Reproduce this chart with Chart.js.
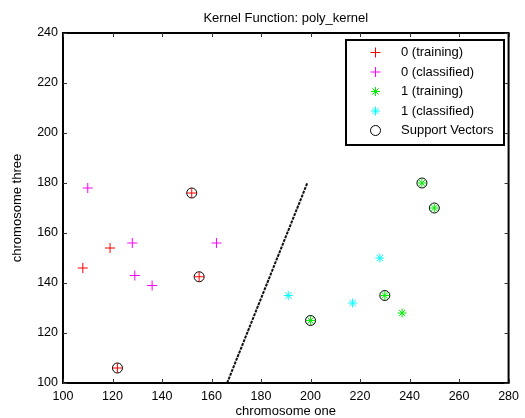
<!DOCTYPE html>
<html>
<head>
<meta charset="utf-8">
<script src="https://cdn.jsdelivr.net/npm/chart.js@4/dist/chart.umd.min.js"></script>
<style>
  body { margin: 0; background: #fff; }
  canvas { display: block; }
</style>
</head>
<body>
<canvas id="chart" width="525" height="418"></canvas>
<script>
const chartTitle = 'Kernel Function: poly_kernel'
const xTitle = 'chromosome one'
const yTitle = 'chromosome three'

const xTicks = [100, 120, 140, 160, 180, 200, 220, 240, 260, 280]
const yTicks = [100, 120, 140, 160, 180, 200, 220, 240]

const labels = ['0 (training)', '0 (classified)', '1 (training)', '1 (classified)', 'Support Vectors']

const train0X = [108, 119, 152, 155, 122]
const train0Y = [146, 154, 176, 142.5, 106]

const class0X = [110, 128, 129, 136, 162]
const class0Y = [178, 156, 143, 139, 156]

const train1X = [245, 250, 230, 200, 237]
const train1Y = [180, 170, 135, 125, 128]

const class1X = [228, 191, 217]
const class1Y = [150, 135, 132]

const supportX = [152, 155, 122, 245, 250, 230, 200]
const supportY = [176, 142.5, 106, 180, 170, 135, 125]

const boundaryX = [166.3, 198.7]
const boundaryY = [100, 180]

const FONT = 'Liberation Sans, Arial, Helvetica, sans-serif'

function points(xs, ys) {
    return xs.map((x, i) => ({ x: x, y: ys[i] }))
}

// matlab style frame, inward ticks, title and legend box
const matlabAxes = {
    id: 'matlabAxes',
    afterDraw(chart) {
        const { ctx, chartArea: a, scales } = chart
        ctx.save()

        ctx.strokeStyle = '#000'
        ctx.lineWidth = 2
        ctx.strokeRect(a.left, a.top, a.right - a.left, a.bottom - a.top)

        ctx.strokeStyle = '#333'
        ctx.lineWidth = 1
        ctx.beginPath()
        xTicks.forEach(v => {
            const px = Math.round(scales.x.getPixelForValue(v)) + 0.5
            ctx.moveTo(px, a.bottom)
            ctx.lineTo(px, a.bottom - 4)
            ctx.moveTo(px, a.top)
            ctx.lineTo(px, a.top + 4)
        })
        yTicks.forEach(v => {
            const py = Math.round(scales.y.getPixelForValue(v)) + 0.5
            ctx.moveTo(a.left, py)
            ctx.lineTo(a.left + 4, py)
            ctx.moveTo(a.right, py)
            ctx.lineTo(a.right - 4, py)
        })
        ctx.stroke()

        ctx.fillStyle = '#000'
        ctx.font = '13px ' + FONT
        ctx.textAlign = 'center'
        ctx.textBaseline = 'middle'
        ctx.fillText(chartTitle, (a.left + a.right) / 2, 18)

        // legend
        const lx = 346, ly = 40, lw = 158, lh = 105
        ctx.fillStyle = '#fff'
        ctx.fillRect(lx, ly, lw, lh)
        ctx.strokeStyle = '#000'
        ctx.lineWidth = 2
        ctx.strokeRect(lx, ly, lw, lh)

        chart.data.datasets.forEach((ds, i) => {
            if (i >= labels.length) return
            const y = 52.5 + i * 19.5
            const x = 375.5
            const r = ds.pointRadius
            ctx.strokeStyle = ds.borderColor
            ctx.lineWidth = ds.borderWidth
            ctx.beginPath()
            if (ds.pointStyle === 'circle') {
                ctx.arc(x, y, r, 0, Math.PI * 2)
            } else {
                ctx.moveTo(x - r, y); ctx.lineTo(x + r, y)
                ctx.moveTo(x, y - r); ctx.lineTo(x, y + r)
                if (ds.pointStyle === 'star') {
                    const d = r * 0.7
                    ctx.moveTo(x - d, y - d); ctx.lineTo(x + d, y + d)
                    ctx.moveTo(x - d, y + d); ctx.lineTo(x + d, y - d)
                }
            }
            ctx.stroke()
            ctx.fillStyle = '#000'
            ctx.textAlign = 'left'
            ctx.fillText(labels[i], 401, y)
        })

        ctx.restore()
    }
}

new Chart(document.getElementById('chart'), {
    type: 'scatter',
    data: {
        datasets: [
            {
                label: labels[0],
                data: points(train0X, train0Y),
                pointStyle: 'cross',
                pointRadius: 5,
                borderColor: '#ff0000',
                borderWidth: 1
            },
            {
                label: labels[1],
                data: points(class0X, class0Y),
                pointStyle: 'cross',
                pointRadius: 5,
                borderColor: '#ff00ff',
                borderWidth: 1
            },
            {
                label: labels[2],
                data: points(train1X, train1Y),
                pointStyle: 'star',
                pointRadius: 4.5,
                borderColor: '#00ee00',
                borderWidth: 1
            },
            {
                label: labels[3],
                data: points(class1X, class1Y),
                pointStyle: 'star',
                pointRadius: 4.5,
                borderColor: '#00ffff',
                borderWidth: 1
            },
            {
                label: labels[4],
                data: points(supportX, supportY),
                pointStyle: 'circle',
                pointRadius: 5,
                borderColor: '#000',
                backgroundColor: 'rgba(0,0,0,0)',
                borderWidth: 1
            },
            {
                label: 'boundary',
                type: 'line',
                data: points(boundaryX, boundaryY),
                showLine: true,
                pointRadius: 0,
                borderColor: '#111',
                borderWidth: 2,
                borderDash: [3, 1]
            }
        ]
    },
    options: {
        responsive: false,
        animation: false,
        events: [],
        layout: { padding: { top: 33, right: 16, bottom: 0, left: 0 } },
        plugins: {
            legend: { display: false },
            tooltip: { enabled: false },
            title: { display: false }
        },
        scales: {
            x: {
                type: 'linear',
                min: 100,
                max: 280,
                afterBuildTicks: s => { s.ticks = xTicks.map(v => ({ value: v })) },
                afterFit: s => { s.height = 35 },
                grid: { display: false, drawTicks: false },
                border: { display: false },
                ticks: { color: '#000', padding: 6, font: { family: FONT, size: 12.5 }, maxRotation: 0 },
                title: {
                    display: true,
                    text: xTitle,
                    color: '#000',
                    font: { family: FONT, size: 13 },
                    padding: { top: 0, bottom: -1 }
                }
            },
            y: {
                type: 'linear',
                min: 100,
                max: 240,
                afterBuildTicks: s => { s.ticks = yTicks.map(v => ({ value: v })) },
                afterFit: s => { s.width = 63 },
                grid: { display: false, drawTicks: false },
                border: { display: false },
                ticks: { color: '#000', padding: 5, font: { family: FONT, size: 12.5 } },
                title: {
                    display: true,
                    text: yTitle,
                    color: '#000',
                    font: { family: FONT, size: 13 },
                    padding: { top: 10, bottom: 0 }
                }
            }
        }
    },
    plugins: [matlabAxes]
})
</script>
</body>
</html>
